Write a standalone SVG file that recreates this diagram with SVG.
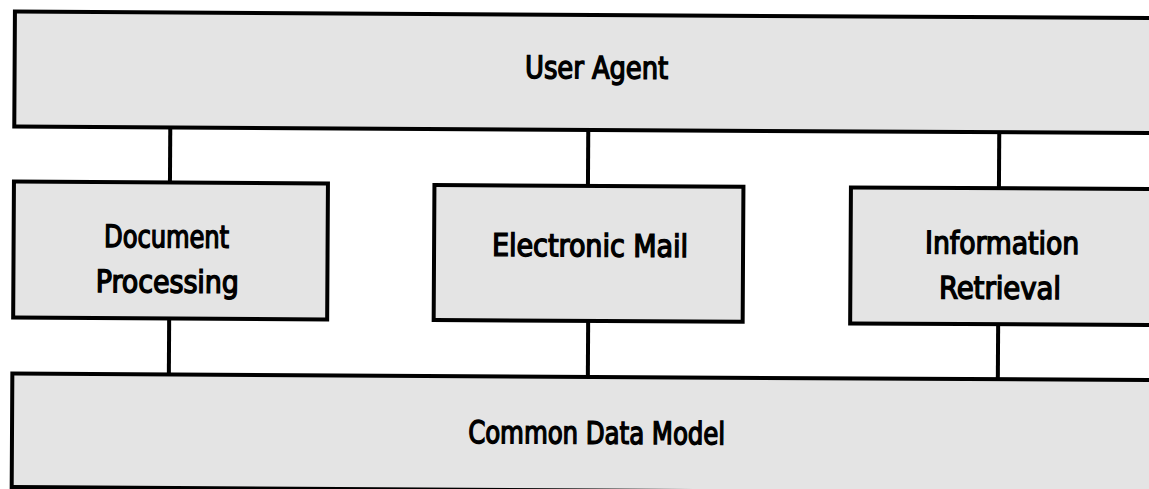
<svg xmlns="http://www.w3.org/2000/svg" width="1149" height="489" viewBox="0 0 1149 489">
  <style>
    .box { fill: #e4e4e4; stroke: #000; stroke-width: 4; }
    .conn { stroke: #000; stroke-width: 4; fill: none; }
    .lbl { font-family: "DejaVu Sans Condensed", "DejaVu Sans", sans-serif; font-weight: normal; font-size: 31px; fill: #000; stroke: #000; stroke-width: 1.4; text-anchor: middle; }
  </style>
  <rect x="0" y="0" width="1149" height="489" fill="#fff"/>
  <g transform="rotate(0.33)">
    <g id="connectors">
      <line class="conn" x1="171" y1="126" x2="171" y2="182"/>
      <line class="conn" x1="589" y1="126" x2="589" y2="183"/>
      <line class="conn" x1="1000" y1="126" x2="1000" y2="183"/>
      <line class="conn" x1="171" y1="317" x2="171" y2="374"/>
      <line class="conn" x1="590" y1="317" x2="590" y2="374"/>
      <line class="conn" x1="1000" y1="318" x2="1000" y2="374"/>
    </g>
    <g id="user-agent">
      <rect class="box" x="15" y="11.5" width="1200" height="115"/>
      <text class="lbl" x="597" y="75" textLength="143" lengthAdjust="spacingAndGlyphs">User Agent</text>
    </g>
    <g id="document-processing">
      <rect class="box" x="15" y="181.5" width="314" height="136"/>
      <text class="lbl" x="168" y="246.5" textLength="125" lengthAdjust="spacingAndGlyphs">Document</text>
      <text class="lbl" x="169" y="291.5" textLength="143" lengthAdjust="spacingAndGlyphs">Processing</text>
    </g>
    <g id="electronic-mail">
      <rect class="box" x="435.5" y="182.5" width="309" height="135"/>
      <text class="lbl" x="591.5" y="253" textLength="196" lengthAdjust="spacingAndGlyphs">Electronic Mail</text>
    </g>
    <g id="information-retrieval">
      <rect class="box" x="852" y="182.5" width="400" height="136"/>
      <text class="lbl" x="1003.5" y="248" textLength="154" lengthAdjust="spacingAndGlyphs">Information</text>
      <text class="lbl" x="1001.7" y="293" textLength="122" lengthAdjust="spacingAndGlyphs">Retrieval</text>
    </g>
    <g id="common-data-model">
      <rect class="box" x="14.5" y="373.5" width="1200" height="113.5"/>
      <text class="lbl" x="599.2" y="440.3" textLength="257" lengthAdjust="spacingAndGlyphs">Common Data Model</text>
    </g>
  </g>
</svg>
